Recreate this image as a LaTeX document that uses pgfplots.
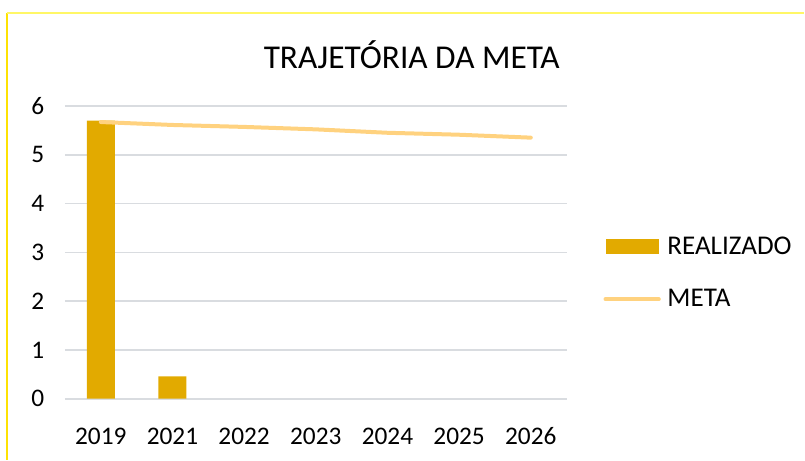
\documentclass[border=0pt]{standalone}
\usepackage{fontspec}
\setmainfont{Carlito}
\usepackage{pgfplots}
\pgfplotsset{compat=1.18}
\definecolor{barc}{RGB}{226,170,0}
\definecolor{linec}{RGB}{255,210,127}
\definecolor{gridc}{RGB}{217,220,224}
\begin{document}
\begin{tikzpicture}[x=0.75pt,y=0.75pt]
\path (0,0) rectangle (805,460);
\draw[yellow!85!orange, line width=1pt] (7,0) -- (7,447);
\draw[yellow!60, line width=0.8pt] (7,447) -- (805,447);
\node[font=\fontsize{25}{30}\selectfont, anchor=center] at (412,405) {TRAJETÓRIA DA META};
\begin{axis}[
  at={(48.75pt,45.75pt)}, anchor=south west,
  scale only axis, width=376.5pt, height=219.75pt,
  xmin=-0.5, xmax=6.5, ymin=0, ymax=6,
  xtick={0,1,2,3,4,5,6},
  xticklabels={2019,2021,2022,2023,2024,2025,2026},
  ytick={0,1,2,3,4,5,6},
  axis line style={draw=none},
  major tick length=0pt,
  ymajorgrids, grid style={gridc, line width=1.2pt},
  /pgf/number format/assume math mode=true,
  tick label style={font=\fontsize{19}{22}\selectfont},
  yticklabel style={xshift=-12pt},
  xticklabel style={anchor=base, yshift=-34pt},
  legend style={at={(1.065,0.43)}, anchor=west, draw=none, fill=none,
     font=\fontsize{20.3}{24}\selectfont, row sep=21pt, legend cell align=left},
]
\addplot[ybar, bar width=21pt, fill=barc, draw=none,
  legend image code/.code={\fill[barc] (0pt,-5.5pt) rectangle (40pt,5.5pt); \path (43pt,0pt);}]
  coordinates {(0,5.70) (1,0.46)};
\addlegendentry{REALIZADO}
\addplot[linec, line width=3pt, line cap=round,
  legend image code/.code={\draw[linec, line width=3pt] (0pt,0pt) -- (40pt,0pt); \path (43pt,0pt);}]
  coordinates {(0,5.67) (1,5.61) (2,5.57) (3,5.52) (4,5.45) (5,5.41) (6,5.35)};
\addlegendentry{META}
\end{axis}
\end{tikzpicture}
\end{document}
